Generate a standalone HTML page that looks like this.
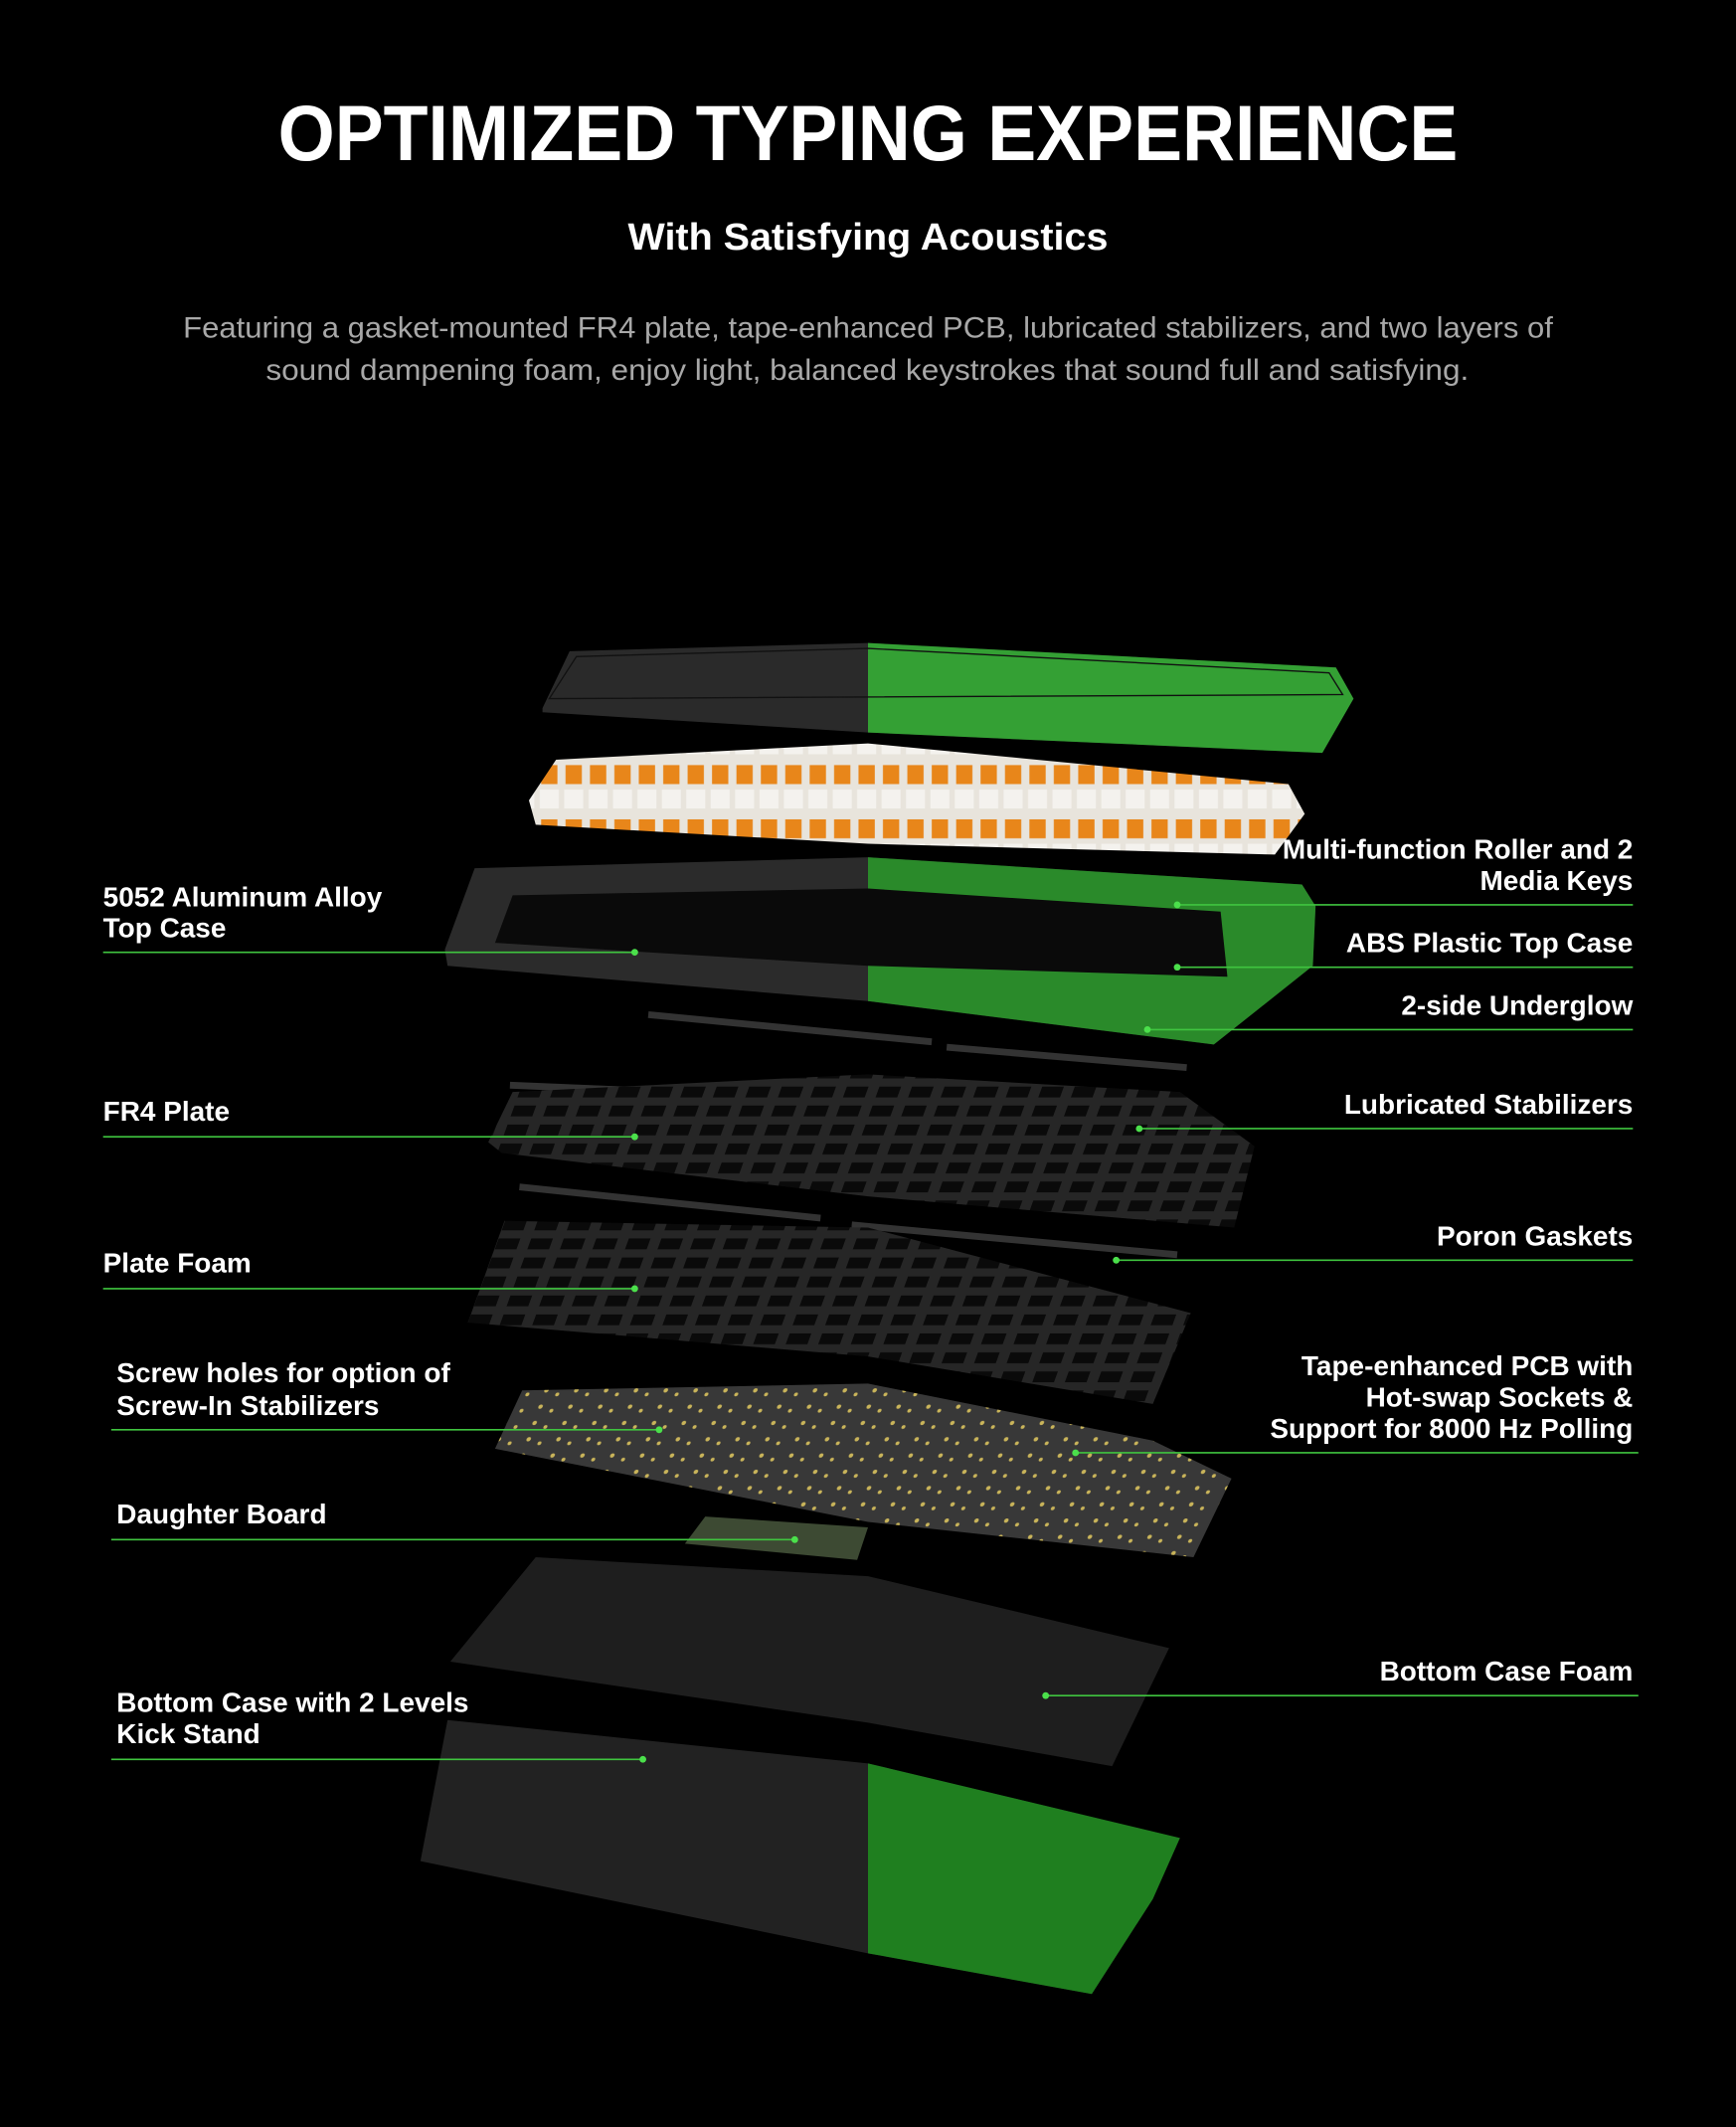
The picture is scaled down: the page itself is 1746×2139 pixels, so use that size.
<!DOCTYPE html>
<html><head><meta charset="utf-8"><style>
html,body{margin:0;padding:0;background:#000;}
svg{display:block;}
.lab{font-family:"Liberation Sans Narrow","Liberation Sans",sans-serif;font-weight:bold;font-size:20.5px;fill:#fff;}
.r{text-anchor:end;}
.ln{stroke:#3fc43f;stroke-width:1.2;}
.dot{fill:#4be04b;}
</style></head><body>
<svg width="1746" height="2139" viewBox="0 0 1280 1568" xmlns="http://www.w3.org/2000/svg">
<defs>
<clipPath id="rh"><rect x="640" y="0" width="640" height="1568"/></clipPath>
<pattern id="holes" width="24" height="14" patternUnits="userSpaceOnUse" patternTransform="skewX(-20)">
<rect width="24" height="14" fill="#262626"/><rect x="4" y="3" width="16" height="8" fill="#0a0a0a"/></pattern>
<pattern id="pcb" width="22" height="12" patternUnits="userSpaceOnUse" patternTransform="skewX(-20)">
<rect width="22" height="12" fill="#383838"/><circle cx="6" cy="5" r="1.6" fill="#c9b45a"/><circle cx="15" cy="8" r="1.4" fill="#c9b45a"/></pattern>
<pattern id="sw" width="18" height="40" patternUnits="userSpaceOnUse">
<rect width="18" height="40" fill="#e8e4dc"/><rect x="3" y="4" width="12" height="14" fill="#e8861a"/><rect x="2" y="22" width="14" height="14" fill="#f4f2ee"/></pattern>
</defs>
<rect width="1280" height="1568" fill="#000"/>
<text x="205" y="118" textLength="870" lengthAdjust="spacingAndGlyphs" font-family="Liberation Sans,sans-serif" font-weight="bold" font-size="58" fill="#fff">OPTIMIZED TYPING EXPERIENCE</text>
<text x="463" y="184" textLength="354" lengthAdjust="spacingAndGlyphs" font-family="Liberation Sans,sans-serif" font-weight="bold" font-size="28" fill="#fff">With Satisfying Acoustics</text>
<text x="135" y="249" textLength="1010" lengthAdjust="spacingAndGlyphs" font-family="Liberation Sans,sans-serif" font-size="21.5" fill="#a8a8a8">Featuring a gasket-mounted FR4 plate, tape-enhanced PCB, lubricated stabilizers, and two layers of</text>
<text x="196" y="280" textLength="887" lengthAdjust="spacingAndGlyphs" font-family="Liberation Sans,sans-serif" font-size="21.5" fill="#a8a8a8">sound dampening foam, enjoy light, balanced keystrokes that sound full and satisfying.</text>

<!-- keycaps -->
<g><polygon points="400,522 420,480 640,474 985,492 998,515 975,555 640,540 400,525" fill="#2a2a2a"/>
<polygon points="400,522 420,480 640,474 985,492 998,515 975,555 640,540 400,525" fill="#34a034" clip-path="url(#rh)"/>
<polygon points="405,515 425,484 640,478 980,496 990,512" fill="none" stroke="#111" stroke-width="1"/></g>
<!-- switches -->
<polygon points="390,590 410,560 640,548 950,578 962,600 940,630 640,622 395,608" fill="url(#sw)"/>
<!-- top case -->
<polygon points="328,700 350,640 640,632 960,652 970,668 968,712 895,770 640,738 330,712" fill="#2b2b2b"/>
<polygon points="328,700 350,640 640,632 960,652 970,668 968,712 895,770 640,738 330,712" fill="#2a8a2a" clip-path="url(#rh)"/>
<polygon points="365,695 378,660 640,655 900,672 905,720 640,712" fill="#0a0a0a"/>
<!-- gaskets -->
<line x1="478" y1="748" x2="687" y2="768" stroke="#333" stroke-width="5"/>
<line x1="698" y1="772" x2="875" y2="787" stroke="#333" stroke-width="5"/>
<!-- plate -->
<line x1="376" y1="800" x2="860" y2="820" stroke="#333" stroke-width="5"/>
<polygon points="360,842 378,805 640,792 870,805 925,845 910,905 640,882 370,850" fill="url(#holes)"/>
<line x1="383" y1="875" x2="605" y2="898" stroke="#333" stroke-width="5"/>
<line x1="628" y1="903" x2="868" y2="925" stroke="#333" stroke-width="5"/>
<!-- plate foam -->
<polygon points="345,975 372,900 640,905 878,968 850,1035 640,1000" fill="url(#holes)"/>
<!-- pcb -->
<polygon points="365,1068 385,1025 640,1020 850,1062 908,1090 880,1148 640,1122" fill="url(#pcb)"/>
<!-- daughter board -->
<polygon points="505,1138 520,1118 640,1126 632,1150" fill="#3d4a33"/>
<!-- bottom foam -->
<polygon points="332,1225 395,1148 640,1162 862,1215 820,1302 640,1270" fill="#1e1e1e"/>
<!-- bottom case -->
<polygon points="310,1372 330,1268 640,1300 870,1355 850,1400 805,1470 640,1440" fill="#222"/>
<polygon points="310,1372 330,1268 640,1300 870,1355 850,1400 805,1470 640,1440" fill="#1f7f1f" clip-path="url(#rh)"/>

<!-- left labels -->
<text class="lab" x="76" y="668">5052 Aluminum Alloy</text><text class="lab" x="76" y="691">Top Case</text>
<line class="ln" x1="76" y1="702" x2="468" y2="702"/><circle class="dot" cx="468" cy="702" r="2.5"/>
<text class="lab" x="76" y="826">FR4 Plate</text>
<line class="ln" x1="76" y1="838" x2="468" y2="838"/><circle class="dot" cx="468" cy="838" r="2.5"/>
<text class="lab" x="76" y="938">Plate Foam</text>
<line class="ln" x1="76" y1="950" x2="468" y2="950"/><circle class="dot" cx="468" cy="950" r="2.5"/>
<text class="lab" x="86" y="1019">Screw holes for option of</text><text class="lab" x="86" y="1043">Screw-In Stabilizers</text>
<line class="ln" x1="82" y1="1054" x2="486" y2="1054"/><circle class="dot" cx="486" cy="1054" r="2.5"/>
<text class="lab" x="86" y="1123">Daughter Board</text>
<line class="ln" x1="82" y1="1135" x2="586" y2="1135"/><circle class="dot" cx="586" cy="1135" r="2.5"/>
<text class="lab" x="86" y="1262">Bottom Case with 2 Levels</text><text class="lab" x="86" y="1285">Kick Stand</text>
<line class="ln" x1="82" y1="1297" x2="474" y2="1297"/><circle class="dot" cx="474" cy="1297" r="2.5"/>

<!-- right labels -->
<text class="lab r" x="1204" y="633">Multi-function Roller and 2</text><text class="lab r" x="1204" y="656">Media Keys</text>
<line class="ln" x1="868" y1="667" x2="1204" y2="667"/><circle class="dot" cx="868" cy="667" r="2.5"/>
<text class="lab r" x="1204" y="702">ABS Plastic Top Case</text>
<line class="ln" x1="868" y1="713" x2="1204" y2="713"/><circle class="dot" cx="868" cy="713" r="2.5"/>
<text class="lab r" x="1204" y="748">2-side Underglow</text>
<line class="ln" x1="846" y1="759" x2="1204" y2="759"/><circle class="dot" cx="846" cy="759" r="2.5"/>
<text class="lab r" x="1204" y="821">Lubricated Stabilizers</text>
<line class="ln" x1="840" y1="832" x2="1204" y2="832"/><circle class="dot" cx="840" cy="832" r="2.5"/>
<text class="lab r" x="1204" y="918">Poron Gaskets</text>
<line class="ln" x1="823" y1="929" x2="1204" y2="929"/><circle class="dot" cx="823" cy="929" r="2.5"/>
<text class="lab r" x="1204" y="1014">Tape-enhanced PCB with</text><text class="lab r" x="1204" y="1037">Hot-swap Sockets &amp;</text><text class="lab r" x="1204" y="1060">Support for 8000 Hz Polling</text>
<line class="ln" x1="793" y1="1071" x2="1208" y2="1071"/><circle class="dot" cx="793" cy="1071" r="2.5"/>
<text class="lab r" x="1204" y="1239">Bottom Case Foam</text>
<line class="ln" x1="771" y1="1250" x2="1208" y2="1250"/><circle class="dot" cx="771" cy="1250" r="2.5"/>
</svg>
</body></html>
